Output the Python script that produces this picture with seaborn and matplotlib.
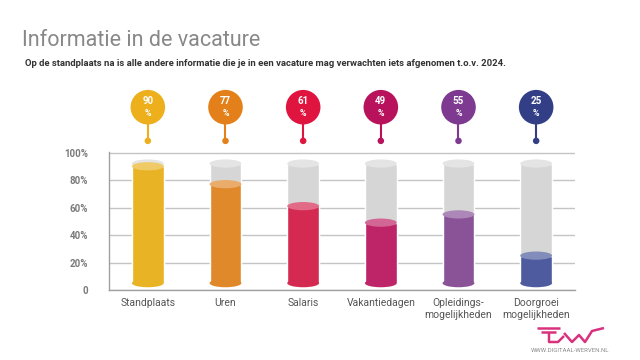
import matplotlib
matplotlib.use("Agg")
import pandas as pd
import seaborn as sns
from matplotlib import pyplot as plt
from matplotlib.patches import Ellipse
from matplotlib.lines import Line2D
from matplotlib.colors import to_rgb

# Data
categories = ['Standplaats', 'Uren', 'Salaris', 'Vakantiedagen',
              'Opleidings-\nmogelijkheden', 'Doorgroei\nmogelijkheden']
percentages = [90, 77, 61, 49, 55, 25]
y_ticks = [0, 20, 40, 60, 80, 100]
y_tick_labels = ['0', '20%', '40%', '60%', '80%', '100%']

bar_colors = ['#E8B324', '#E0892A', '#D42A52', '#BE2468', '#8A5398', '#4E5C9F']
pin_colors = ['#EDB01C', '#E48019', '#E0153F', '#B8125C', '#7D3A90', '#323F86']

sns.set_theme(style='white')
plt.rcParams['font.family'] = ['Roboto', 'DejaVu Sans']

df = pd.DataFrame({'categorie': categories, 'percentage': percentages})
df['buis'] = 92  # height of the grey glass tube

fig = plt.figure(figsize=(6.4, 3.6), dpi=100)
ax = fig.add_axes([109 / 640, 1 - 290 / 360, 466 / 640, 138 / 360])

sns.barplot(data=df, x='categorie', y='buis', color='#D6D6D6', width=0.41,
            saturation=1, ax=ax)
sns.barplot(data=df, x='categorie', y='percentage', hue='categorie',
            palette=bar_colors, width=0.41, saturation=1, legend=False, ax=ax)


def lighten(c, f):
    return tuple(v + (1 - v) * f for v in to_rgb(c))


# turn the flat bars into cylinders
base, ell_h = 5, 6
tubes = list(ax.patches[:6])
fills = list(ax.patches[6:12])
for p in tubes:
    top = p.get_height()
    cx, w = p.get_x() + p.get_width() / 2, p.get_width()
    p.set_y(base)
    p.set_height(top - base)
    p.set_zorder(1)
    ax.add_patch(Ellipse((cx, top), w, ell_h, color='#E4E4E4', zorder=1.5, lw=0))
for p, c in zip(fills, bar_colors):
    top = p.get_height()
    cx, w = p.get_x() + p.get_width() / 2, p.get_width()
    p.set_y(base)
    p.set_height(top - base)
    p.set_zorder(2)
    ax.add_patch(Ellipse((cx, base), w, ell_h, color=c, zorder=2, lw=0))
    ax.add_patch(Ellipse((cx, top), w, ell_h, color=lighten(c, 0.3), zorder=2.5, lw=0))

# axes styling
ax.set_xlim(-0.5, 5.5)
ax.set_ylim(0, 100.4)
ax.set_yticks(y_ticks, y_tick_labels)
ax.set_xlabel('')
ax.set_ylabel('')
ax.yaxis.grid(True, color='#C4C4C4', lw=1)
ax.set_axisbelow(True)
for s in ['top', 'right']:
    ax.spines[s].set_visible(False)
for s in ['left', 'bottom']:
    ax.spines[s].set_color('#A0A0A0')
    ax.spines[s].set_linewidth(1)
ax.tick_params(axis='y', length=0, pad=15, labelsize=7, labelcolor='#7A7A7A')
ax.tick_params(axis='x', length=0, pad=6, labelsize=7.5, labelcolor='#555555')
for t in ax.get_yticklabels():
    t.set_fontweight('bold')

# pins with the percentages
xs = list(range(len(categories)))
ax.vlines(xs, 108.5, 122, colors=pin_colors, lw=1.5, clip_on=False, zorder=4)
ax.scatter(xs, [108.5] * len(xs), s=22, c=pin_colors, lw=0, clip_on=False, zorder=5)
ax.scatter(xs, [133] * len(xs), s=620, c=pin_colors, lw=0, clip_on=False, zorder=5)
for x, v in zip(xs, percentages):
    ax.annotate(str(v), (x, 133), xytext=(0, 4.2), textcoords='offset points',
                ha='center', va='center', color='white', fontsize=7,
                fontweight='bold', annotation_clip=False, zorder=6)
    ax.annotate('%', (x, 133), xytext=(0, -4.5), textcoords='offset points',
                ha='center', va='center', color='white', fontsize=6.3,
                fontweight='bold', annotation_clip=False, zorder=6)

# titles
fig.text(22 / 640, 1 - 46 / 360, 'Informatie in de vacature', fontsize=15.5,
         color='#888888', fontweight='normal', va='baseline')
fig.text(25 / 640, 1 - 66 / 360,
         'Op de standplaats na is alle andere informatie die je in een vacature '
         'mag verwachten iets afgenomen t.o.v. 2024.',
         fontsize=6.8, color='#333333', fontweight='bold', va='baseline')


# logo
def px(x, y):
    return x / 640, 1 - y / 360


pink = '#D8327F'
logo = [
    [(537, 328), (560, 328)],
    [(541, 332), (556, 332)],
    [(549, 332), (549, 342), (558, 342), (564, 336)],
    [(564, 333), (572, 342), (579, 335), (585, 342), (592, 331), (604, 328)],
]
for pts in logo:
    xx, yy = zip(*[px(*p) for p in pts])
    fig.add_artist(Line2D(xx, yy, color=pink, lw=1.8, solid_capstyle='butt'))
fig.text(570 / 640, 1 - 351 / 360, 'WWW.DIGITAAL-WERVEN.NL', fontsize=4.3,
         color='#8A8A8A', ha='center', va='center')

fig.savefig('out.png', dpi=100)
